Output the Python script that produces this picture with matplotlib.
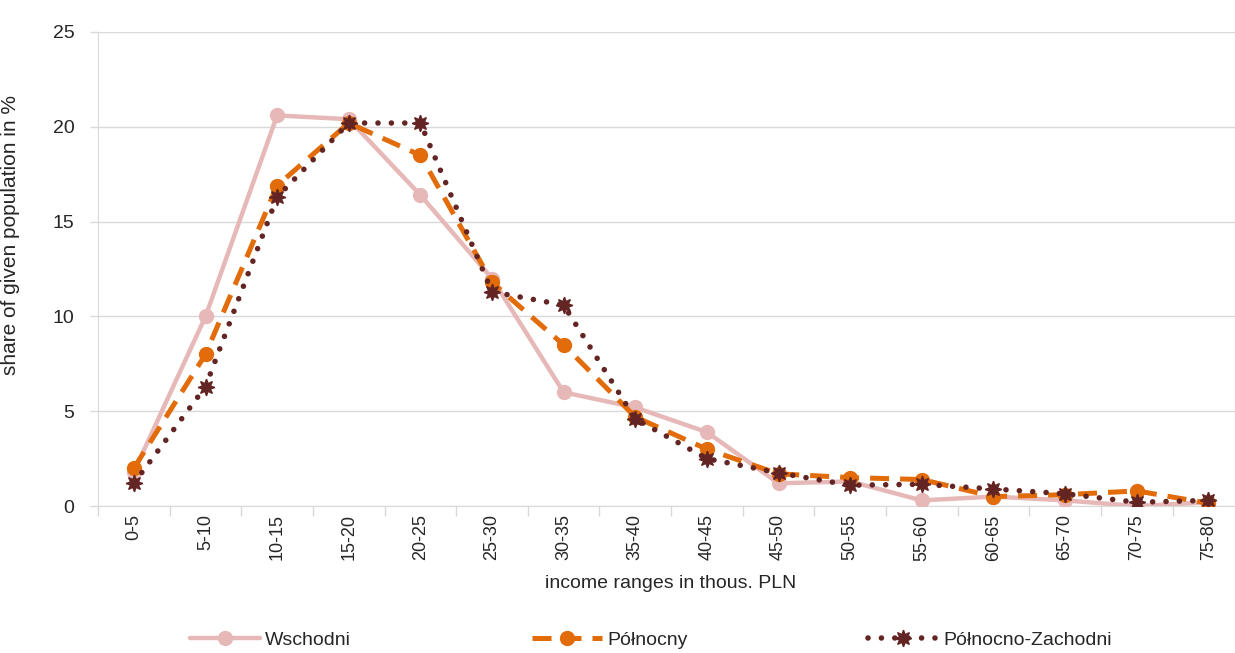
import matplotlib.pyplot as plt

plt.rcParams['font.family'] = ['Liberation Sans', 'DejaVu Sans']

ranges = ['0-5', '5-10', '10-15', '15-20', '20-25', '25-30', '30-35', '35-40',
          '40-45', '45-50', '50-55', '55-60', '60-65', '65-70', '70-75', '75-80']
wschodni = [1.8, 10.0, 20.6, 20.4, 16.4, 12.0, 6.0, 5.2,
            3.9, 1.2, 1.3, 0.3, 0.5, 0.3, 0.0, 0.2]
polnocny = [2.0, 8.0, 16.9, 20.2, 18.5, 11.8, 8.5, 4.7,
            3.0, 1.7, 1.5, 1.4, 0.5, 0.6, 0.8, 0.15]
polnocno_zachodni = [1.2, 6.3, 16.3, 20.2, 20.2, 11.3, 10.6, 4.6,
                     2.5, 1.75, 1.1, 1.15, 0.9, 0.65, 0.2, 0.3]

pink = '#E6B9B8'
orange = '#E26B0A'
maroon = '#632523'
grid_col = '#D9D9D9'
txt = '#262626'

fig = plt.figure(figsize=(12.35, 6.53), dpi=100)
ax = fig.add_axes([0.0794, 0.225, 0.928, 0.726])

x = list(range(len(ranges)))
ax.plot(x, wschodni, color=pink, lw=3.2, marker='o', ms=10,
        solid_capstyle='round', label='Wschodni', zorder=3)
ax.plot(x, polnocny, color=orange, lw=3.6, ls=(0, (3.8, 2.2)), marker='o', ms=10,
        label='Północny', zorder=4)
ax.plot(x, polnocno_zachodni, color=maroon, lw=4, ls=(0, (0.01, 2.4)),
        dash_capstyle='round', marker=(8, 1, 0), ms=12,
        label='Północno-Zachodni', zorder=5)

ax.set_xlim(-0.5, len(ranges) - 0.5)
ax.set_ylim(0, 25)
ax.set_yticks([0, 5, 10, 15, 20, 25])
ax.yaxis.grid(True, color=grid_col, lw=1)
ax.set_axisbelow(True)

ax.set_xticks(x)
ax.set_xticklabels(ranges, rotation=90, fontsize=13, color=txt)
ax.set_xticks([i - 0.5 for i in range(len(ranges) + 1)], minor=True)
ax.tick_params(axis='x', which='major', length=0, pad=6)
ax.tick_params(axis='x', which='minor', length=7, color=grid_col, width=1)
ax.tick_params(axis='y', length=6, color=grid_col, width=1, labelsize=14,
               labelcolor=txt, pad=11)

for s in ['top', 'right']:
    ax.spines[s].set_visible(False)
ax.spines['left'].set_color(grid_col)
ax.spines['bottom'].set_color(grid_col)

ax.set_ylabel('share of given population in %', fontsize=15, color=txt)
ax.yaxis.set_label_coords(-0.068, 0.572)
ax.set_xlabel('income ranges in thous. PLN', fontsize=14, color=txt, labelpad=10)

fig.legend(loc='center left', bbox_to_anchor=(0.154, 0.02), ncol=3,
           frameon=False, fontsize=14, handlelength=3.6, columnspacing=9.3,
           handletextpad=0.26, borderpad=0, borderaxespad=0, labelcolor=txt)

fig.savefig('out.png', dpi=100)
